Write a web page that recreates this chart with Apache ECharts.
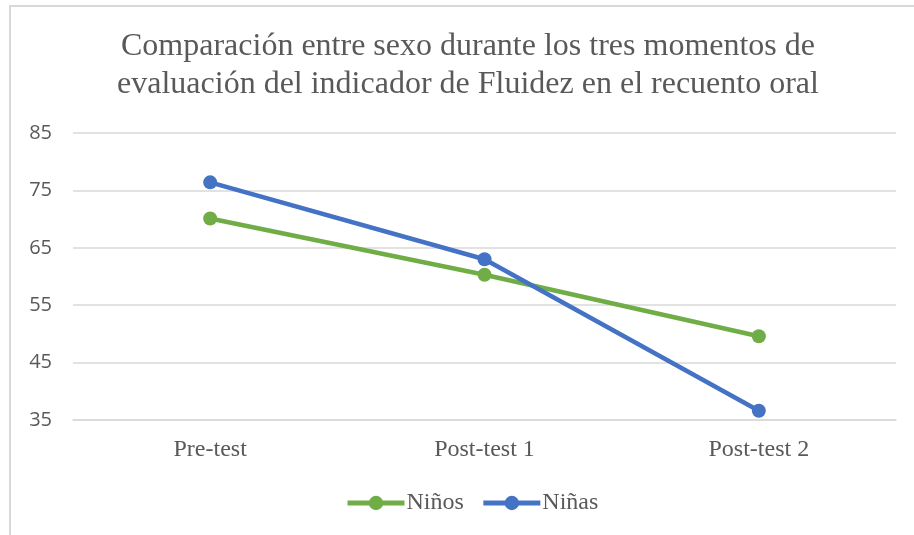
<!DOCTYPE html>
<html>
<head>
<meta charset="utf-8">
<script src="https://cdn.jsdelivr.net/npm/echarts@6/dist/echarts.min.js"></script>
<style>
  html, body { margin: 0; padding: 0; background: #fff; }
  #frame {
    position: absolute; left: 9px; top: 5px; width: 905px; height: 530px;
    border-left: 2px solid #d9d9d9; border-top: 2px solid #d9d9d9;
    box-sizing: border-box; pointer-events: none;
  }
  #chart { width: 914px; height: 535px; }
</style>
</head>
<body>
<div id="chart"></div>
<div id="frame"></div>
<script>
const categories = ['Pre-test', 'Post-test 1', 'Post-test 2']
const ninos = [70.1, 60.3, 49.6]
const ninas = [76.4, 63.0, 36.6]
const yTicks = [35, 45, 55, 65, 75, 85]

const chart = echarts.init(document.getElementById('chart'))
const serif = '"Liberation Serif", "DejaVu Serif", serif'

chart.setOption({
  animation: false,
  title: {
    text: 'Comparación entre sexo durante los tres momentos de\nevaluación del indicador de Fluidez en el recuento oral',
    left: 463,
    top: 23,
    textAlign: 'center',
    textStyle: {
      fontFamily: serif,
      fontWeight: 'normal',
      fontSize: 32,
      lineHeight: 38,
      color: '#595959'
    }
  },
  grid: {
    left: 73,
    right: 18,
    top: 133,
    bottom: 115
  },
  legend: {
    left: 340,
    top: 486,
    itemWidth: 57,
    itemHeight: 18,
    itemGap: 17,
    lineStyle: { width: 5 },
    textStyle: {
      fontFamily: serif,
      fontSize: 24,
      color: '#595959',
      padding: [0, 0, 0, -3]
    },
    data: ['Niños', 'Niñas']
  },
  xAxis: {
    type: 'category',
    data: categories,
    boundaryGap: true,
    axisLine: { lineStyle: { color: '#d9d9d9', width: 1.5 } },
    axisTick: { show: false },
    axisLabel: {
      margin: 18,
      fontFamily: serif,
      fontSize: 24,
      color: '#595959'
    }
  },
  yAxis: {
    type: 'value',
    min: yTicks[0],
    max: yTicks[yTicks.length - 1],
    interval: 10,
    axisLine: { show: false },
    axisTick: { show: false },
    axisLabel: {
      margin: 21,
      fontFamily: '"Open Sans", "Liberation Sans", sans-serif',
      fontSize: 20,
      color: '#595959'
    },
    splitLine: { lineStyle: { color: '#d9d9d9', width: 1.5 } }
  },
  series: [{
    name: 'Niños',
    type: 'line',
    data: ninos,
    symbol: 'circle',
    symbolSize: 14,
    itemStyle: { color: '#70ad47' },
    lineStyle: { color: '#70ad47', width: 4.5 }
  }, {
    name: 'Niñas',
    type: 'line',
    data: ninas,
    symbol: 'circle',
    symbolSize: 14,
    itemStyle: { color: '#4472c4' },
    lineStyle: { color: '#4472c4', width: 4.5 }
  }]
})
</script>
</body>
</html>
